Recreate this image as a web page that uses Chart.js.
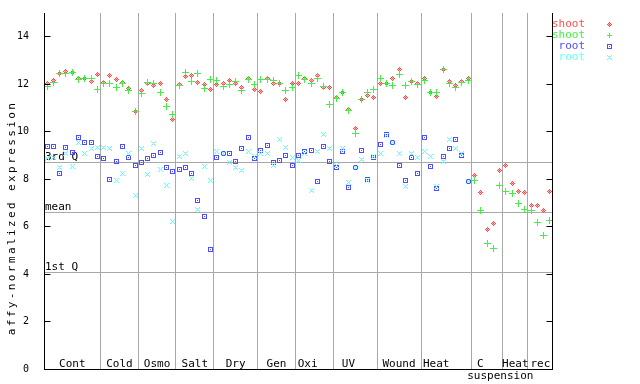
<!DOCTYPE html>
<html><head><meta charset="utf-8">
<script src="https://cdn.jsdelivr.net/npm/chart.js@4/dist/chart.umd.min.js"></script>
<style>html,body{margin:0;padding:0;background:#fff}canvas{display:block}</style>
</head><body>
<canvas id="c" width="640" height="384"></canvas>
<script>
// ---- data ----
const groupLabels = [["Cont"],["Cold"],["Osmo"],["Salt"],["Dry"],["Gen"],["Oxi  "],["UV  "],["Wound"],["Heat   "],["C  ","    suspension"],["Heat"],["rec"]];
const groupSizes = [9,6,6,6,7,6,6,7,7,8,5,4,4];
const seriesNames = ["shoot","shoot","root","root"];
const shootRep1 = [12.01,12.15,12.45,12.54,12.51,12.24,12.24,12.13,12.40,
  12.06,12.36,12.18,12.06,11.81,10.85,
  11.72,12.05,11.95,12.05,11.35,10.53,
  11.98,12.34,12.37,12.09,11.98,11.77,
  11.98,12.01,12.15,12.05,11.84,12.26,11.77,
  11.71,12.26,12.05,12.05,11.37,12.05,
  12.05,12.26,12.15,12.37,11.88,11.84,
  11.46,11.67,10.92,10.15,11.37,11.51,11.46,
  12.05,12.05,12.22,12.61,11.46,12.12,12.01,
  12.22,11.67,11.50,12.64,12.12,11.95,12.12,12.22,
  8.17,7.45,5.89,6.14,8.38,
  8.59,7.83,7.49,7.45,
  6.90,6.87,6.69,7.49];
const shootRep2 = [11.91,12.08,12.43,12.44,12.48,12.19,12.26,12.26,11.77,
  12.02,12.05,11.88,12.05,11.72,10.83,
  11.60,12.08,12.01,11.63,11.08,10.74,
  11.94,12.51,12.13,12.47,11.81,12.19,
  12.15,11.91,11.98,12.12,11.74,12.19,11.98,
  12.19,12.19,12.15,12.02,11.72,11.88,
  12.36,12.19,12.01,12.26,11.91,11.13,
  11.39,11.67,10.89,9.91,11.35,11.63,11.77,
  12.22,12.02,11.94,12.40,11.94,12.12,11.98,
  12.15,11.65,11.63,12.61,12.02,11.88,12.09,12.16,
  7.96,6.69,5.30,5.09,7.75,
  7.49,7.41,6.99,6.74,
  6.69,6.19,5.64,6.27];
const rootRep1 = [9.39,9.39,8.25,9.35,9.14,9.77,9.56,9.56,8.97,
  8.89,8.00,8.76,9.39,8.93,8.59,
  8.68,8.89,9.01,9.14,8.47,8.34,
  8.42,8.47,8.25,7.11,6.44,5.05,
  8.93,9.10,9.06,8.76,9.27,9.77,8.89,
  9.22,9.43,8.68,8.80,9.01,8.59,
  9.01,9.18,9.22,7.92,9.39,8.76,
  8.47,9.18,7.66,8.47,9.22,8.00,8.93,
  9.48,9.86,9.56,8.59,7.96,8.93,8.25,
  9.77,8.55,7.62,8.97,9.27,9.65,9.01,7.92,
  null,null,null,null,null,null,null,null,null,null,null,null,null];
const rootRep2 = [8.86,8.90,8.50,9.06,8.55,9.56,9.10,9.31,9.35,
  9.35,9.27,7.96,8.25,9.10,7.33,
  9.31,8.21,9.52,8.42,7.75,6.23,
  8.97,9.10,8.04,6.74,8.55,7.96,
  9.18,9.10,8.72,8.50,8.38,9.18,8.95,
  9.10,9.06,8.59,9.69,9.35,8.93,
  8.80,9.06,7.54,9.18,9.90,9.27,
  8.59,9.31,7.87,8.50,8.84,7.96,8.97,
  9.06,9.85,9.55,9.10,7.71,9.10,8.93,
  9.18,8.97,7.71,8.76,9.69,9.27,9.06,7.92,
  null,null,null,null,null,null,null,null,null,null,null,null,null];
const statLabels = ["3rd Q","mean","1st Q"];
const statValues = [8.69,6.61,4.06];
const yTicks = [0,2,4,6,8,10,12,14];

// ---- styles ----
const colors = ['#ff4d4d','#44ee44','#4d4dff','#66ffff'];
const lightColors = ['#ffb8b8',null,null,null];
const patterns = [
  ["..#..",".#o#.","#o#o#",".#o#.","..#.."],
  ["...#...","...#...","...#...","#######","...#...","...#...","...#..."],
  ["#####","#...#","#.#.#","#...#","#####"],
  ["#...#",".#.#.","..#..",".#.#.","#...#"]
];
const legendPatterns = [patterns[0],["..#..","..#..","#####","..#..","..#.."],patterns[2],patterns[3]];
function makeMarker(p, color, light){
  const c = document.createElement('canvas');
  c.width = p[0].length; c.height = p.length;
  const g = c.getContext('2d');
  p.forEach((row,r)=>{ for(let k=0;k<row.length;k++){
    if(row[k]==='#'){ g.fillStyle = color; g.fillRect(k,r,1,1); }
    else if(row[k]==='o' && light){ g.fillStyle = light; g.fillRect(k,r,1,1); }
  } });
  return c;
}
const markers = patterns.map((p,i)=>makeMarker(p,colors[i],lightColors[i]));
const legendMarkers = legendPatterns.map((p,i)=>makeMarker(p,colors[i],lightColors[i]));
const FONT = '"DejaVu Sans Mono", monospace';

function toPoints(arr){ const out=[]; arr.forEach((v,i)=>{ if(v!==null) out.push({x:i+0.5,y:v}); }); return out; }
const allSeries = [shootRep1, shootRep2, rootRep1, rootRep2];
const nSamples = shootRep1.length;

const overlay = {
  id:'overlay',
  beforeDatasetsDraw(chart){
    const ctx = chart.ctx, xs = chart.scales.x, ys = chart.scales.y, a = chart.chartArea;
    ctx.save();
    ctx.strokeStyle = '#a8a8a8'; ctx.lineWidth = 1;
    let cum = 0;
    groupSizes.forEach((n,i)=>{
      cum += n;
      if (i === groupSizes.length-1) return;
      const px = Math.floor(xs.getPixelForValue(cum)) + 0.5;
      ctx.beginPath(); ctx.moveTo(px, a.top); ctx.lineTo(px, a.bottom); ctx.stroke();
    });
    ctx.font = '11px ' + FONT; ctx.fillStyle = '#000'; ctx.textAlign='left'; ctx.textBaseline='alphabetic';
    statValues.forEach((v,i)=>{
      const py = Math.floor(ys.getPixelForValue(v)) + 0.5;
      ctx.beginPath(); ctx.moveTo(a.left, py); ctx.lineTo(a.right, py); ctx.stroke();
      ctx.fillText(statLabels[i], a.left + 1, py - 2.5);
    });
    ctx.restore();
    chart.ctx.imageSmoothingEnabled = false;
    chart.data.datasets.forEach((d,i)=>{
      chart.getDatasetMeta(i).data.forEach(el=>{ el.x = Math.floor(el.x)+0.5; el.y = Math.floor(el.y)+0.5; });
    });
  },
  afterDraw(chart){
    const ctx = chart.ctx, xs = chart.scales.x, ys = chart.scales.y, a = chart.chartArea;
    ctx.save();
    ctx.strokeStyle = '#000'; ctx.lineWidth = 1;
    const L = Math.floor(a.left)+0.5, R = Math.floor(a.right)-0.5, B = Math.floor(a.bottom)+0.5, T = Math.floor(a.top);
    ctx.beginPath();
    ctx.moveTo(L, T); ctx.lineTo(L, B);
    ctx.moveTo(R, T); ctx.lineTo(R, B);
    ctx.moveTo(L-0.5, B); ctx.lineTo(R+0.5, B);
    yTicks.forEach(v=>{
      const py = Math.floor(ys.getPixelForValue(v)) + 0.5;
      ctx.moveTo(L, py); ctx.lineTo(L+6, py);
      ctx.moveTo(R, py); ctx.lineTo(R-6, py);
    });
    ctx.stroke();
    // group labels
    ctx.font = '11px ' + FONT; ctx.fillStyle = '#000'; ctx.textAlign='center'; ctx.textBaseline='middle';
    let start = 0;
    groupSizes.forEach((n,i)=>{
      const cx = xs.getPixelForValue(start + n/2);
      groupLabels[i].forEach((t,k)=>{ ctx.fillText(t, cx, 364 + k*12); });
      start += n;
    });
    // legend
    ctx.textAlign = 'right';
    ctx.imageSmoothingEnabled = false;
    seriesNames.forEach((t,i)=>{
      const y = 24 + i*11;
      ctx.fillStyle = colors[i];
      ctx.fillText(t, 585, y);
      const m = legendMarkers[i];
      ctx.drawImage(m, 609 - Math.floor(m.width/2), y - Math.floor(m.height/2));
    });
    // y title
    ctx.translate(12, 218); ctx.rotate(-Math.PI/2);
    ctx.fillStyle = '#000'; ctx.textAlign = 'center';
    try { ctx.letterSpacing = '2.4px'; } catch(e) {}
    ctx.fillText('affy-normalized expression', 0, 0);
    ctx.restore();
  }
};

new Chart(document.getElementById('c'), {
  type: 'scatter',
  data: {
    datasets: allSeries.map((arr,i)=>({
      label: seriesNames[i],
      data: toPoints(arr),
      pointStyle: markers[i],
      pointRadius: 3,
      pointHoverRadius: 3,
      order: 4 - i
    }))
  },
  options: {
    responsive: false,
    animation: false,
    events: [],
    layout: { padding: { top: 13, left: 0, right: 0, bottom: 0 } },
    plugins: { legend: { display: false }, tooltip: { enabled: false } },
    scales: {
      x: { type: 'linear', min: 0, max: nSamples, grid: { display: false }, border: { display: false },
           ticks: { display: false }, afterFit: s => { s.height = 15; } },
      y: { position: 'left', min: 0, max: 15, grid: { display: false }, border: { display: false },
           ticks: { stepSize: 2, padding: 7, color: '#000', font: { family: FONT, size: 10 } },
           afterBuildTicks: s => { s.ticks = yTicks.map(v => ({ value: v })); },
           afterFit: s => { s.width = 44; } },
      y2: { position: 'right', min: 0, max: 15, grid: { display: false }, border: { display: false },
            ticks: { display: false }, afterFit: s => { s.width = 87; } }
    }
  },
  plugins: [overlay]
});
</script>
</body></html>
